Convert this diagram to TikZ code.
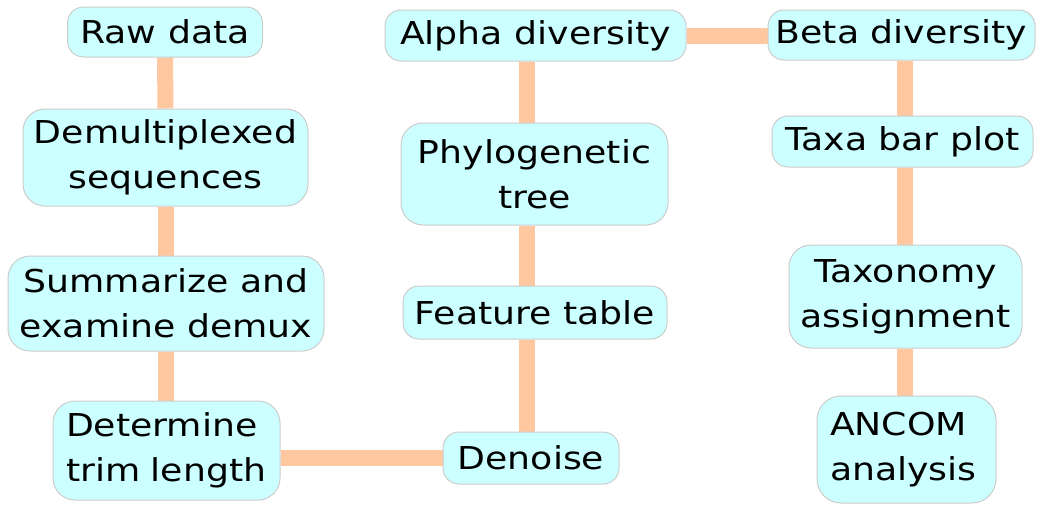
\documentclass[tikz,border=0pt]{standalone}
\usepackage{fontspec}
\setmainfont{DejaVu Sans}[FakeStretch=1.15]
\usetikzlibrary{backgrounds}
\definecolor{boxfill}{HTML}{CCFFFF}
\definecolor{boxline}{HTML}{CCCCCC}
\definecolor{link}{HTML}{FFC8A0}
\begin{document}
\begin{tikzpicture}[x=1pt,y=-1pt,
  box/.style={draw=boxline, line width=1pt, fill=boxfill, rounded corners=16pt, inner sep=0pt,
    font=\fontsize{31.5}{45}\selectfont, align=center},
  link/.style={draw=link, line width=16pt}]
\useasboundingbox (0,0) rectangle (1038,506);
% nodes
\node[box, minimum width=195pt, minimum height=50pt] (raw) at (165,32) {Raw data};
\node[box, minimum width=285pt, minimum height=97pt, rounded corners=22pt] (demux) at (165.5,157.5) {Demultiplexed\\sequences};
\node[box, minimum width=316pt, minimum height=95pt, rounded corners=22pt] (summ) at (166,303.5) {Summarize and\\examine demux};
\node[box, minimum width=227pt, minimum height=99pt, rounded corners=22pt, text width=201pt, align=left] (trim) at (166.5,450.5) {Determine\\trim length};
\node[box, minimum width=176pt, minimum height=52pt] (den) at (531,458) {Denoise};
\node[box, minimum width=264pt, minimum height=53pt] (feat) at (535,312.5) {Feature table};
\node[box, minimum width=267pt, minimum height=102pt, rounded corners=22pt] (phy) at (534.5,174) {Phylogenetic\\tree};
\node[box, minimum width=301pt, minimum height=51pt] (alpha) at (535.5,35.5) {Alpha diversity};
\node[box, minimum width=267pt, minimum height=50pt] (beta) at (901.5,35) {Beta diversity};
\node[box, minimum width=261pt, minimum height=51pt] (taxa) at (902.5,141.5) {Taxa bar plot};
\node[box, minimum width=233pt, minimum height=103pt, rounded corners=22pt] (tax) at (905.5,296.5) {Taxonomy\\assignment};
\node[box, minimum width=179pt, minimum height=107pt, rounded corners=24pt, text width=153pt, align=left] (ancom) at (906.5,449.5) {ANCOM\\analysis};
% connectors
\begin{scope}[on background layer]
\draw[link] (raw.south) -- (demux.north);
\draw[link] (demux.south) -- (summ.north -| demux.south);
\draw[link] (summ.south -| demux.south) -- (trim.north -| demux.south);
\draw[link] (trim.east |- den.west) -- (den.west);
\draw[link] ([xshift=-4pt]den.north) -- ([xshift=-4pt]den.north |- feat.south);
\draw[link] ([xshift=-4pt]den.north |- feat.north) -- ([xshift=-4pt]den.north |- phy.south);
\draw[link] ([xshift=-4pt]den.north |- phy.north) -- ([xshift=-4pt]den.north |- alpha.south);
\draw[link] (alpha.east) -- (beta.west |- alpha.east);
\draw[link] ([xshift=3pt]beta.south) -- ([xshift=3pt]beta.south |- taxa.north);
\draw[link] ([xshift=3pt]beta.south |- taxa.south) -- ([xshift=3pt]beta.south |- tax.north);
\draw[link] ([xshift=3pt]beta.south |- tax.south) -- ([xshift=3pt]beta.south |- ancom.north);
\end{scope}
\end{tikzpicture}
\end{document}
